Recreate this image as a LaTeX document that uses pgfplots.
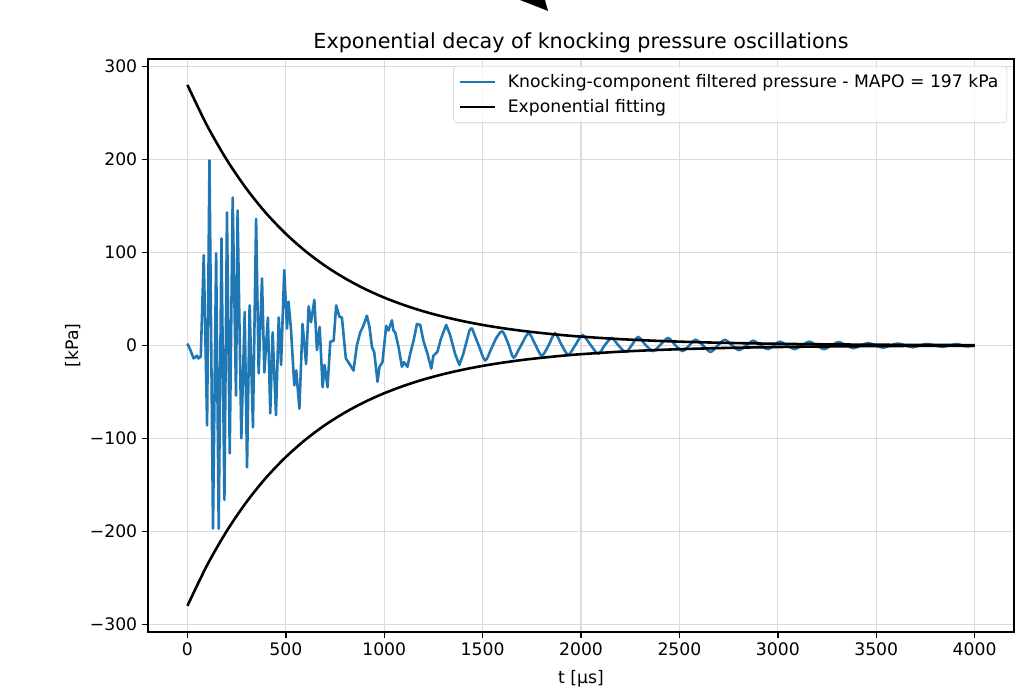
\documentclass[border=0pt]{standalone}
\usepackage{pgfplots}
\pgfplotsset{compat=1.18}
\usepackage{fontspec}
\setmainfont{DejaVu Sans}
\definecolor{mplblue}{RGB}{31,119,180}

\begin{document}
\begin{tikzpicture}
\begin{axis}[
  at={(0,0)}, anchor=south west,
  scale only axis, width=623.5pt, height=412.6pt,
  xmin=-200, xmax=4200, ymin=-308, ymax=308,
  xtick={0,500,...,4000},
  xticklabels={0,500,1000,1500,2000,2500,3000,3500,4000},
  ytick={-300,-200,...,300},
  yticklabels={−300,−200,−100,0,100,200,300},
  tick pos=left, tick align=outside,
  major tick length=4.3pt,
  every tick/.style={black, line width=1pt},
  axis line style={line width=1pt},
  ticklabel style={font=\fontsize{12.4}{14}\selectfont},
  label style={font=\fontsize{12.4}{14}\selectfont},
  xlabel={t [µs]}, ylabel={[kPa]},
  xlabel style={yshift=-3.6pt},
  title={Exponential decay of knocking pressure oscillations},
  title style={font=\fontsize{14.9}{17}\selectfont, yshift=-5pt},
  grid=major, grid style={gray!28, line width=0.9pt},
  legend cell align=left,
  legend style={at={(0.992,0.988)}, anchor=north east,
    fill=white, fill opacity=0.8, text opacity=1, draw=gray!40,
    rounded corners=2.5pt, font=\fontsize{12.4}{14}\selectfont,
    inner xsep=4pt, inner ysep=4pt, row sep=3pt},
  legend image code/.code={\draw[#1] (0pt,0pt) -- (24.8pt,0pt); \path (31.3pt,0pt);},
]
% measured signal, early part (sharp)
\addplot[mplblue, line width=1.86pt, line join=round] coordinates {
(0,2)(15,-5)(32,-14)(49,-11)(56,-14)(68,-12)(83,97)(100,-86)(112,199)
(130,-197)(146,99)(159,-197)(173,115)(188,-166)(201,143)(215,-116)
(230,159)(247,-54)(255,145)(274,-100)(291,36)(303,-131)(316,43)(333,-88)
(349,136)(362,-30)(379,72)(391,-29)(409,30)(421,-73)(433,14)(450,-75)
(464,30)(476,-21)(492,81)(506,18)(514,47)(526,18)(543,-43)(553,-27)
(569,-68)(585,23)(603,-20)(616,42)(628,25)(645,49)(658,-5)(672,20)
(687,-45)(697,-21)(712,-45)(726,4)(743,5)(756,43)(772,31)(785,30)
(805,-14)(827,-21)(844,-27)(861,0)(878,14)(892,20)(912,32)(925,20)
(938,-2)(949,-7)(966,-39)(976,-23)(991,-18)(1010,21)(1022,16)(1039,27)
(1047,16)(1056,14)(1073,-2)(1090,-23)(1100,-18)(1118,-23)(1132,-9)
(1149,5)(1166,23)(1183,22)(1199,5)(1220,-9)(1239,-25)(1250,-11)(1270,-7)
(1288,7)(1315,22)(1335,11)(1360,-9)(1382,-21)(1402,-9)(1433,16)(1445,19)
};
\addlegendentry{Knocking-component filtered pressure - MAPO = 197 kPa}
% measured signal, decaying tail
\addplot[mplblue, line width=1.86pt, smooth, forget plot] coordinates {
(1445,19)(1480,0)(1513,-16)(1545,-3)(1570,8)(1600,15)(1630,2)(1657,-13)
(1690,-2)(1733,13)(1765,2)(1800,-11)(1835,0)(1868,13)(1900,1)(1935,-10)
(1970,0)(2008,11)(2050,0)(2088,-9)(2120,0)(2156,8)(2190,0)(2228,-7)
(2260,1)(2291,9)(2330,0)(2367,-6)(2405,1)(2443,8)(2480,0)(2516,-6)
(2550,0)(2582,6)(2620,0)(2658,-7)(2695,0)(2731,6)(2767,0)(2803,-5)
(2840,0)(2875,5)(2913,0)(2951,-4)(2980,0)(3010,4)(3048,0)(3085,-4)
(3122,0)(3160,4)(3198,0)(3235,-4)(3272,0)(3310,3.5)(3348,0)(3385,-3)
(3422,0)(3460,2.5)(3498,0)(3535,-2.5)(3572,0)(3610,2)(3648,0)(3685,-2)
(3722,0)(3760,1.5)(3798,0)(3835,-1.5)(3872,0)(3910,1.5)(3955,-1)(4000,0)
};
% exponential envelope
\addplot[black, line width=1.86pt, smooth] coordinates {
(0,280)(100,236.3)(200,199.5)(300,168.4)(400,142.1)(500,120.0)(600,101.3)
(700,85.5)(800,72.2)(900,60.9)(1000,51.4)(1100,43.4)(1200,36.6)(1300,30.9)
(1400,26.1)(1500,22.0)(1600,18.6)(1700,15.7)(1800,13.3)(1900,11.2)
(2000,9.45)(2200,6.73)(2400,4.80)(2600,3.42)(2800,2.44)(3000,1.74)
(3200,1.24)(3400,0.88)(3600,0.63)(3800,0.45)(4000,0.32)
};
\addlegendentry{Exponential fitting}
\addplot[black, line width=1.86pt, smooth, forget plot] coordinates {
(0,-280)(100,-236.3)(200,-199.5)(300,-168.4)(400,-142.1)(500,-120.0)(600,-101.3)
(700,-85.5)(800,-72.2)(900,-60.9)(1000,-51.4)(1100,-43.4)(1200,-36.6)(1300,-30.9)
(1400,-26.1)(1500,-22.0)(1600,-18.6)(1700,-15.7)(1800,-13.3)(1900,-11.2)
(2000,-9.45)(2200,-6.73)(2400,-4.80)(2600,-3.42)(2800,-2.44)(3000,-1.74)
(3200,-1.24)(3400,-0.88)(3600,-0.63)(3800,-0.45)(4000,-0.32)
};
\end{axis}
\pgfresetboundingbox
\path (-106.6pt,-43.2pt) rectangle (634.3pt,455.0pt);
\fill[black] (267.8pt,455.0pt) -- (285.8pt,455.0pt) -- (288.0pt,447.1pt) -- cycle;
\end{tikzpicture}
\end{document}
